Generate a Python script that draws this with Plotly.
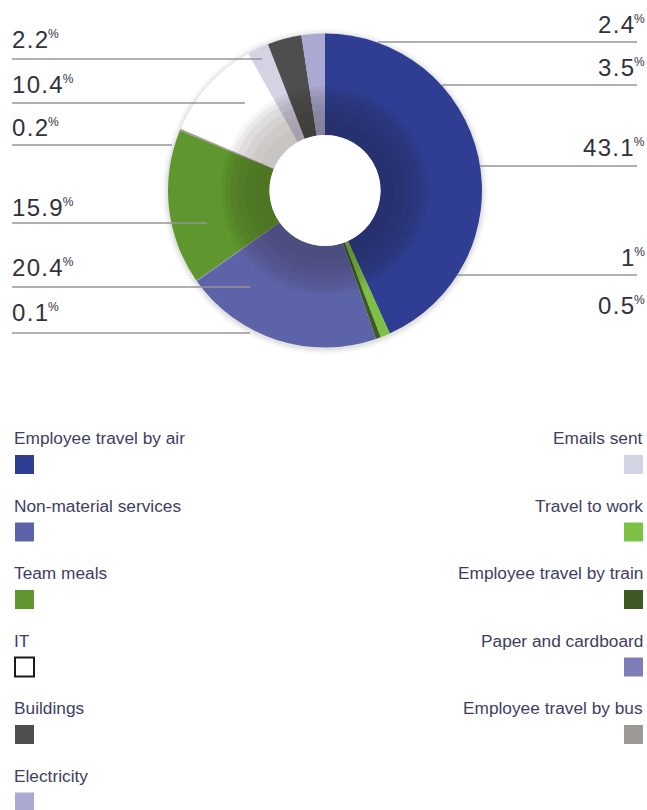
import plotly.graph_objects as go

W, H = 647, 810

# ---- data (pie order, clockwise from 12 o'clock) ----
categories = [
    "Employee travel by air", "Travel to work", "Employee travel by train",
    "Non-material services", "Paper and cardboard", "Team meals",
    "Employee travel by bus", "IT", "Emails sent", "Buildings", "Electricity",
]
values = [43.1, 1.0, 0.5, 20.4, 0.1, 15.9, 0.2, 10.4, 2.2, 3.5, 2.4]

# percentage call-out labels
left_labels = ["2.2", "10.4", "0.2", "15.9", "20.4", "0.1"]
right_labels = ["2.4", "3.5", "43.1", "1", "0.5"]

# legend columns
legend_left = ["Employee travel by air", "Non-material services", "Team meals",
               "IT", "Buildings", "Electricity"]
legend_right = ["Emails sent", "Travel to work", "Employee travel by train",
                "Paper and cardboard", "Employee travel by bus"]

# ---- styles ----
colors = {
    "Employee travel by air": "#2f3e93",
    "Travel to work": "#7cc143",
    "Employee travel by train": "#3e5a22",
    "Non-material services": "#5d63a9",
    "Paper and cardboard": "#7d7db7",
    "Team meals": "#5f962d",
    "Employee travel by bus": "#9c9a94",
    "IT": "#ffffff",
    "Emails sent": "#d3d3e4",
    "Buildings": "#4e4e4e",
    "Electricity": "#a9a9d1",
}

CX, CY, R, RH = 325, 190.5, 157, 55.5


def domain(r):
    return dict(x=[(CX - r) / W, (CX + r) / W],
                y=[1 - (CY + r) / H, 1 - (CY - r) / H])


def px(x):
    return x / W


def py(y):
    return 1 - y / H


shapes = []
annotations = []

# soft shadow around the ring
for dr, a in [(6, 0.025), (4, 0.035), (2, 0.05)]:
    shapes.append(dict(type="circle", xref="paper", yref="paper", layer="below",
                       x0=px(CX - R - dr), x1=px(CX + R + dr),
                       y0=py(CY + R + dr + 1), y1=py(CY - R - dr + 1),
                       fillcolor=f"rgba(0,0,0,{a})", line=dict(width=0)))
# keep the centre hole clean white
shapes.append(dict(type="circle", xref="paper", yref="paper", layer="above",
                   x0=px(CX - RH), x1=px(CX + RH),
                   y0=py(CY + RH), y1=py(CY - RH),
                   fillcolor="white", line=dict(width=0)))

fig = go.Figure()
fig.add_trace(go.Pie(
    labels=categories, values=values, sort=False, direction="clockwise",
    rotation=0, hole=RH / R, domain=domain(R), textinfo="none",
    marker=dict(colors=[colors[c] for c in categories], line=dict(width=0)),
    showlegend=False,
))
# inner shading rings (soft gradient)
for r, a in [(104, 0.045), (100, 0.05), (95, 0.055), (88, 0.05), (80, 0.04), (70, 0.03)]:
    fig.add_trace(go.Pie(
        labels=categories, values=values, sort=False, direction="clockwise",
        rotation=0, hole=RH / r, domain=domain(r), textinfo="none",
        marker=dict(colors=[f"rgba(30,25,10,{a})"] * len(categories),
                    line=dict(width=0)),
        showlegend=False, hoverinfo="skip",
    ))

TXT = "#31313f"
LINE = "rgba(150,150,150,0.75)"
FONT = "Liberation Sans, Arial"
PCT = "<sup><span style='font-size:12px'>%</span></sup>"


def pct_text(lab):
    return f"<span style='letter-spacing:1.3px'>{lab[:-1]}</span>{lab[-1]}{PCT}"


# left call-outs: (text y, line y, line end x)
left_pos = [(39, 59, 262), (84.5, 103, 245), (127.5, 145, 172),
            (207.5, 223, 207), (267.5, 287, 250), (312.5, 333, 250)]
for lab, (ty, ly, lx) in zip(left_labels, left_pos):
    annotations.append(dict(
        x=px(10), y=py(ty), xref="paper", yref="paper", xanchor="left",
        yanchor="middle", showarrow=False, text=pct_text(lab),
        font=dict(family=FONT, size=24, color=TXT)))
    shapes.append(dict(type="line", xref="paper", yref="paper",
                       x0=px(12), x1=px(lx), y0=py(ly), y1=py(ly),
                       line=dict(color=LINE, width=1.8)))

# right call-outs: (text y, line y or None, line start x)
right_pos = [(24.5, 42, 378), (67.5, 85, 442), (148, 166, 480),
             (257, 275, 457), (305, None, 0)]
for lab, (ty, ly, lx) in zip(right_labels, right_pos):
    annotations.append(dict(
        x=px(647), y=py(ty), xref="paper", yref="paper", xanchor="right",
        yanchor="middle", showarrow=False, text=pct_text(lab),
        font=dict(family=FONT, size=24, color=TXT)))
    if ly is not None:
        shapes.append(dict(type="line", xref="paper", yref="paper",
                           x0=px(lx), x1=px(637), y0=py(ly), y1=py(ly),
                           line=dict(color=LINE, width=1.8)))

# legend
LEG = "#3f3e62"
ROW0, STEP, SQ = 438, 67.5, 19
for i, c in enumerate(legend_left):
    ty = ROW0 + i * STEP
    annotations.append(dict(
        x=px(12), y=py(ty), xref="paper", yref="paper", xanchor="left",
        yanchor="middle", showarrow=False, text=c,
        font=dict(family=FONT, size=17.3, color=LEG)))
    sy = ty + 17
    outline = dict(color="#1a1a1a", width=2) if c == "IT" else dict(width=0)
    shapes.append(dict(type="rect", xref="paper", yref="paper",
                       x0=px(15), x1=px(15 + SQ), y0=py(sy), y1=py(sy + SQ),
                       fillcolor=colors[c], line=outline))
for i, c in enumerate(legend_right):
    ty = ROW0 + i * STEP
    annotations.append(dict(
        x=px(645), y=py(ty), xref="paper", yref="paper", xanchor="right",
        yanchor="middle", showarrow=False, text=c,
        font=dict(family=FONT, size=17.3, color=LEG)))
    sy = ty + 17
    shapes.append(dict(type="rect", xref="paper", yref="paper",
                       x0=px(624), x1=px(624 + SQ), y0=py(sy), y1=py(sy + SQ),
                       fillcolor=colors[c], line=dict(width=0)))

fig.update_layout(
    width=W, height=H, margin=dict(l=0, r=0, t=0, b=0),
    paper_bgcolor="white", plot_bgcolor="white",
    shapes=shapes, annotations=annotations, showlegend=False,
)
fig.write_html(
    "out.html",
    config={"displayModeBar": False},
    post_script="document.body.style.margin='0';document.body.style.overflow='hidden';",
)
